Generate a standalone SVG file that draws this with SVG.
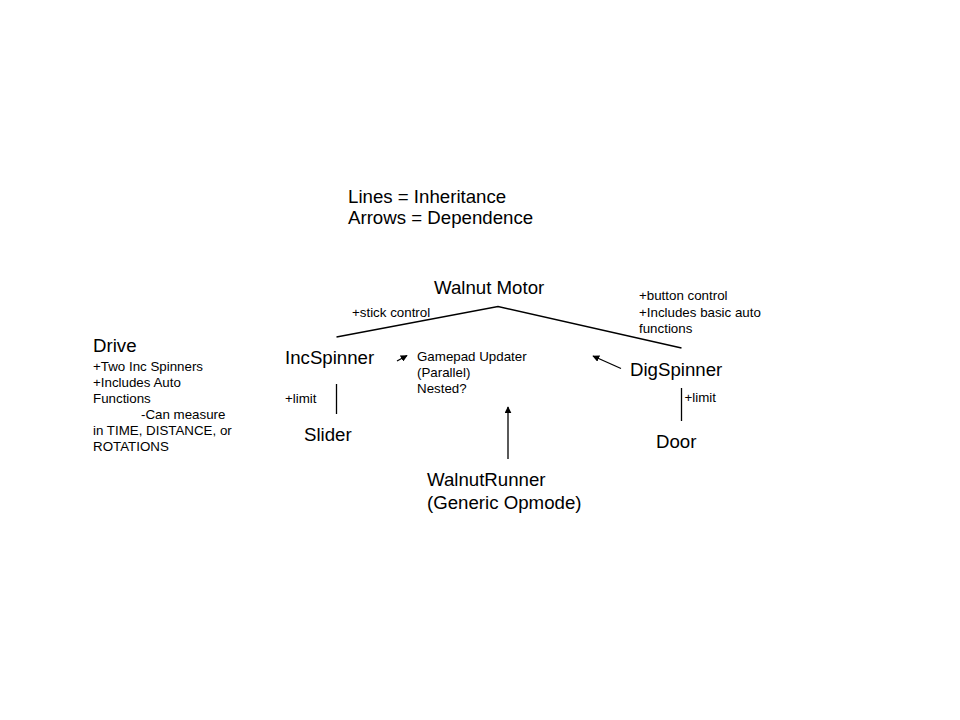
<svg xmlns="http://www.w3.org/2000/svg" width="960" height="720" viewBox="0 0 960 720">
<style>
text{font-family:"Liberation Sans",Arial,sans-serif;fill:#000}
.big{font-size:18.67px}
.small{font-size:13.33px}
.ln{stroke:#000;stroke-width:1.3;fill:none}
</style>
<defs>
<marker id="ah" viewBox="0 0 10 10" refX="9" refY="5" markerWidth="7" markerHeight="7" markerUnits="userSpaceOnUse" orient="auto">
<path d="M0,0 L10,5 L0,10 z" fill="#000"/>
</marker>
</defs>
<rect width="960" height="720" fill="#fff"/>
<g id="legend">
<text class="big" x="348" y="203">Lines = Inheritance</text>
<text class="big" x="348" y="224">Arrows = Dependence</text>
</g>
<g id="connectors">
<polyline class="ln" points="336.5,337 498,306.5 681.5,348"/>
<line class="ln" x1="336.5" y1="384" x2="336.5" y2="414"/>
<line class="ln" x1="681.5" y1="388" x2="681.5" y2="421"/>
<line class="ln" x1="397" y1="361" x2="407" y2="355.5" marker-end="url(#ah)"/>
<line class="ln" x1="621" y1="368.5" x2="593" y2="356" marker-end="url(#ah)"/>
<line class="ln" x1="508" y1="459" x2="508" y2="407" marker-end="url(#ah)"/>
</g>
<g id="walnut-motor">
<text class="big" x="434" y="294">Walnut Motor</text>
</g>
<g id="stick-label">
<text class="small" x="352" y="317">+stick control</text>
</g>
<g id="button-label">
<text class="small" x="639" y="300">+button control</text>
<text class="small" x="639" y="316.5">+Includes basic auto</text>
<text class="small" x="639" y="332.5">functions</text>
</g>
<g id="drive">
<text class="big" x="93" y="352">Drive</text>
<text class="small" x="93" y="371">+Two Inc Spinners</text>
<text class="small" x="93" y="387">+Includes Auto</text>
<text class="small" x="93" y="403">Functions</text>
<text class="small" x="141" y="419">-Can measure</text>
<text class="small" x="93" y="435">in TIME, DISTANCE, or</text>
<text class="small" x="93" y="451">ROTATIONS</text>
</g>
<g id="incspinner">
<text class="big" x="285" y="364">IncSpinner</text>
</g>
<g id="gamepad-updater">
<text class="small" x="417" y="361">Gamepad Updater</text>
<text class="small" x="417" y="377">(Parallel)</text>
<text class="small" x="417" y="393">Nested?</text>
</g>
<g id="digspinner">
<text class="big" x="630" y="376">DigSpinner</text>
</g>
<g id="slider">
<text class="small" x="285" y="403">+limit</text>
<text class="big" x="304" y="441">Slider</text>
</g>
<g id="door">
<text class="small" x="684.5" y="402">+limit</text>
<text class="big" x="656" y="448">Door</text>
</g>
<g id="walnut-runner">
<text class="big" x="427" y="486">WalnutRunner</text>
<text class="big" x="427" y="508.5">(Generic Opmode)</text>
</g>
</svg>
